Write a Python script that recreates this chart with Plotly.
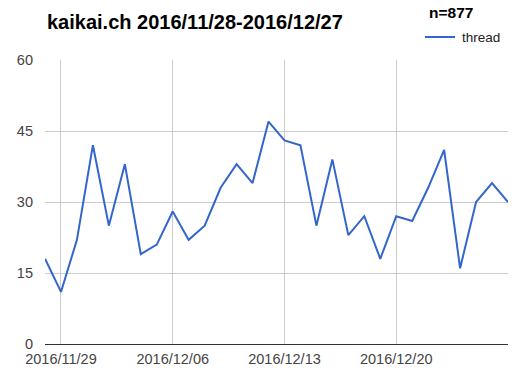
import plotly.graph_objects as go
import pandas as pd

dates = pd.date_range("2016-11-28", "2016-12-27", freq="D")
threads = [18, 11, 22, 42, 25, 38, 19, 21, 28, 22, 25, 33, 38, 34, 47,
           43, 42, 25, 39, 23, 27, 18, 27, 26, 33, 41, 16, 30, 34, 30]
tick_dates = ["2016-11-29", "2016-12-06", "2016-12-13", "2016-12-20"]
tick_labels = ["2016/11/29", "2016/12/06", "2016/12/13", "2016/12/20"]
y_ticks = [0, 15, 30, 45, 60]
title = "kaikai.ch 2016/11/28-2016/12/27"
total_label = "n=877"
series_name = "thread"

W, H = 524, 377
L, R, T, B = 45, 16, 60, 33

fig = go.Figure()
fig.add_trace(go.Scatter(x=dates, y=threads, mode="lines", name=series_name,
                         line=dict(color="#3366cc", width=2), showlegend=False))

fig.update_layout(
    width=W, height=H,
    margin=dict(l=L, r=R, t=T, b=B),
    paper_bgcolor="white", plot_bgcolor="white",
    font=dict(family="Liberation Sans, Arial, sans-serif", size=14, color="#444"),
    xaxis=dict(type="date", range=[dates[0], dates[-1]],
               tickvals=tick_dates, ticktext=tick_labels,
               showgrid=True, gridcolor="#cccccc", gridwidth=1,
               zeroline=False, showline=False, ticks="", ticklabelstandoff=4,
               automargin=False,
               tickfont=dict(size=14.5, color="#444")),
    yaxis=dict(range=[0, 60], tickvals=y_ticks,
               showgrid=True, gridcolor="#cccccc", gridwidth=1,
               zeroline=True, zerolinecolor="#333333", zerolinewidth=1,
               showline=False, ticks="", ticklabelstandoff=11,
               automargin=False,
               tickfont=dict(size=14.5, color="#444")),
)

pw, ph = W - L - R, H - T - B
fig.add_annotation(text="<b>" + title + "</b>", xref="paper", yref="paper",
                   x=0, y=(H - 22 - B) / ph, xanchor="left", yanchor="middle",
                   showarrow=False, font=dict(size=20, color="#000"))
fig.add_annotation(text="<b>" + total_label + "</b>", xref="paper", yref="paper",
                   x=(427 - L) / pw, y=(H - 12 - B) / ph,
                   xanchor="left", yanchor="middle",
                   showarrow=False, font=dict(size=15.5, color="#000"))
fig.add_shape(type="line", xref="paper", yref="paper",
              x0=(425 - L) / pw, x1=(455 - L) / pw,
              y0=(H - 37 - B) / ph, y1=(H - 37 - B) / ph,
              line=dict(color="#3366cc", width=2))
fig.add_annotation(text=series_name, xref="paper", yref="paper",
                   x=(460 - L) / pw, y=(H - 37 - B) / ph,
                   xanchor="left", yanchor="middle",
                   showarrow=False, font=dict(size=13.5, color="#222"))

fig.write_html("out.html")
